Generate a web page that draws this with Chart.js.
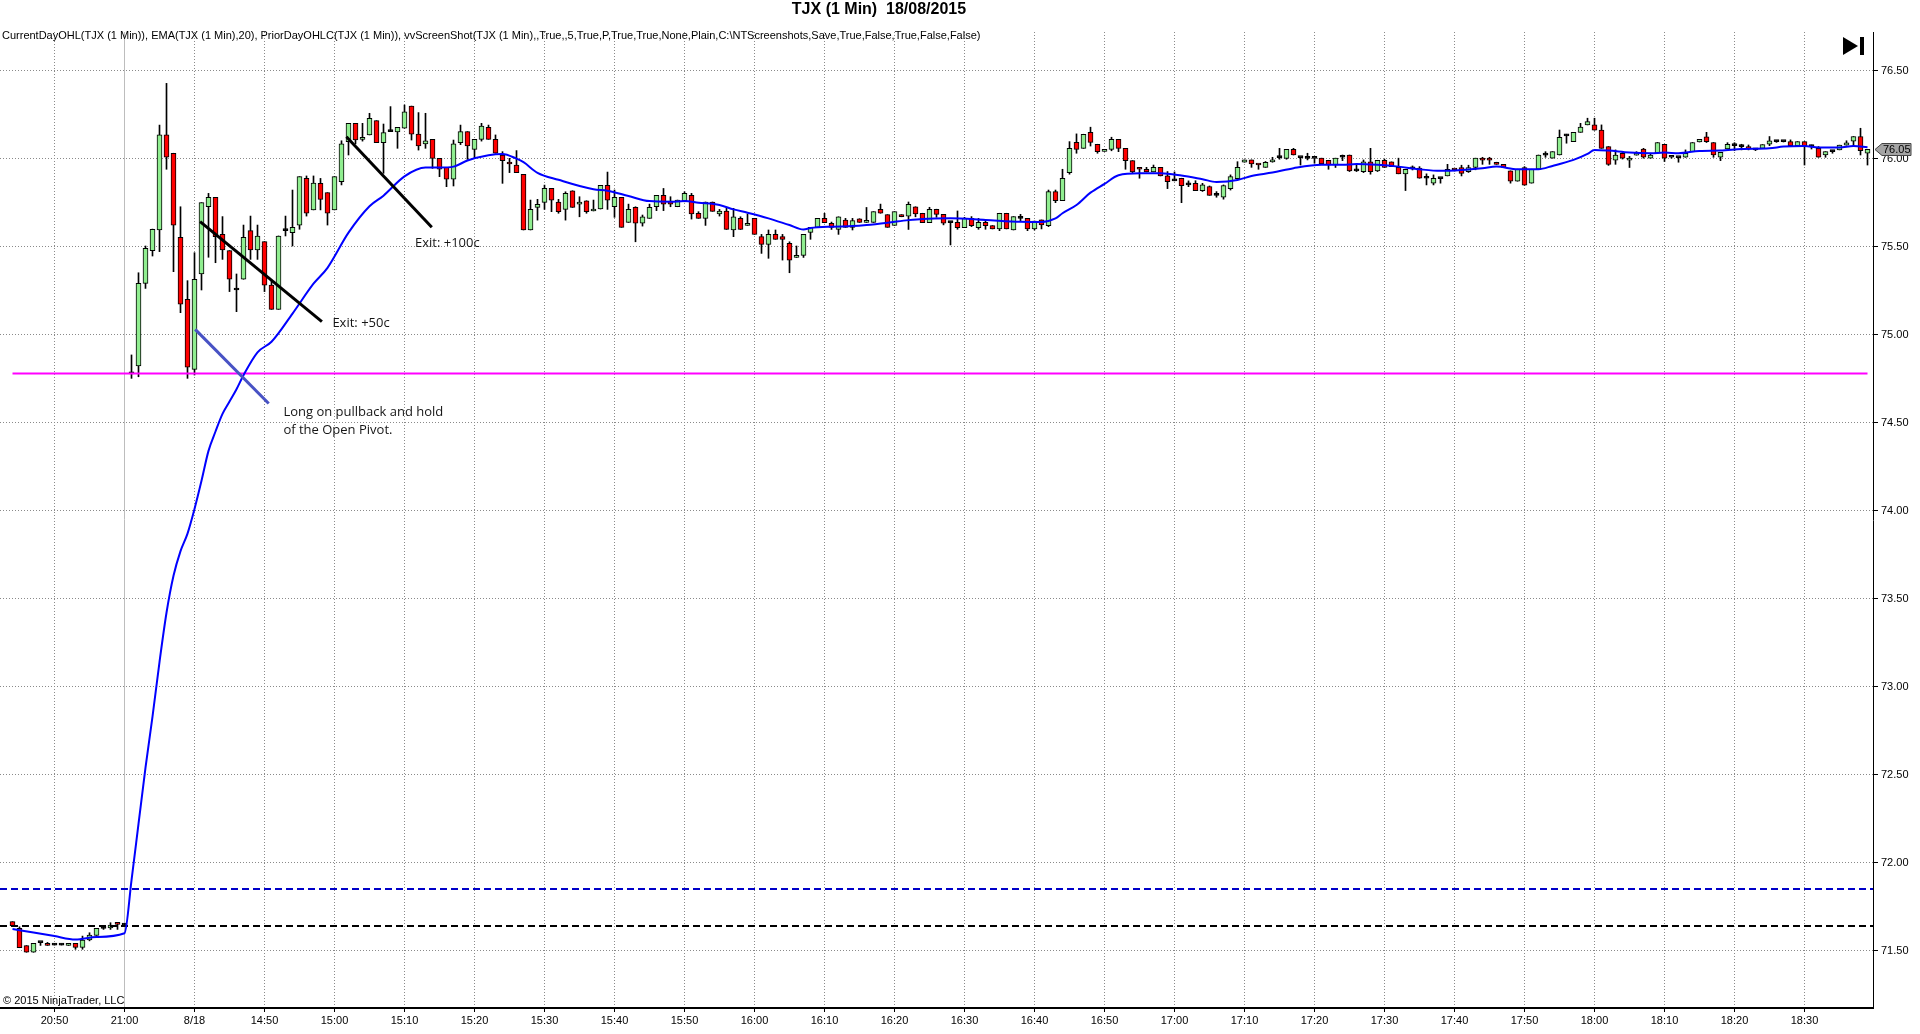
<!DOCTYPE html>
<html>
<head>
<meta charset="utf-8">
<title>TJX (1 Min) 18/08/2015</title>
<script src="https://cdn.jsdelivr.net/npm/chart.js@4.4.1/dist/chart.umd.min.js"></script>
<style>
  html, body { margin: 0; padding: 0; background: #fff; }
  #wrap { width: 1920px; height: 1034px; }
</style>
</head>
<body>
<div id="wrap"><canvas id="chart" width="1920" height="1034"></canvas></div>
<script>
// Ось времени: подписи и номер бара, под которым они стоят
const tickLabels = ['20:50', '21:00', '8/18', '14:50', '15:00', '15:10', '15:20', '15:30', '15:40', '15:50',
  '16:00', '16:10', '16:20', '16:30', '16:40', '16:50', '17:00', '17:10', '17:20', '17:30',
  '17:40', '17:50', '18:00', '18:10', '18:20', '18:30'];
const tickIdx = [6, 16, 26, 36, 46, 56, 66, 76, 86, 96, 106, 116, 126, 136, 146, 156, 166, 176, 186, 196,
  206, 216, 226, 236, 246, 256];
const sessionBreak = 16;

// Ценовая шкала
const priceTicks = [71.5, 72.0, 72.5, 73.0, 73.5, 74.0, 74.5, 75.0, 75.5, 76.0, 76.5];

// Свечи TJX (1 мин): бары 0-16 - 17.08 20:44-21:00, бары 17-265 - 18.08 14:31-18:39
const opens = [
  71.665, 71.627, 71.529, 71.491, 71.546, 71.542, 71.532, 71.532, 71.53, 71.542,
  71.519, 71.561, 71.587, 71.627, 71.629, 71.661, 71.645,
  74.777, 74.822, 75.292, 75.478, 75.595, 76.135, 76.031, 75.553, 75.201, 74.803,
  75.345, 75.728, 75.78, 75.57, 75.478, 75.254, 75.315, 75.591, 75.481, 75.529,
  75.282, 75.144, 75.591, 75.58, 75.623, 75.888, 75.709, 75.86, 75.807, 75.709,
  75.87, 76.097, 76.201, 76.11, 76.135, 76.216, 76.091, 76.154, 76.152, 76.173,
  76.299, 76.14, 76.084, 76.11, 76.002, 75.951, 75.883, 76.091, 76.154, 76.053,
  76.11, 76.178, 76.11, 76.021, 75.981, 75.964, 75.911, 75.595, 75.723, 75.752,
  75.831, 75.754, 75.712, 75.818, 75.742, 75.761, 75.703, 75.714, 75.848, 75.727,
  75.78, 75.638, 75.723, 75.633, 75.661, 75.727, 75.792, 75.759, 75.727, 75.761,
  75.792, 75.69, 75.661, 75.754, 75.686, 75.703, 75.595, 75.661, 75.621, 75.661,
  75.557, 75.513, 75.57, 75.557, 75.519, 75.439, 75.451, 75.581, 75.61, 75.661,
  75.633, 75.598, 75.651, 75.61, 75.659, 75.638, 75.638, 75.712, 75.682, 75.621,
  75.682, 75.674, 75.727, 75.69, 75.637, 75.713, 75.684, 75.637, 75.639, 75.608,
  75.661, 75.608, 75.639, 75.62, 75.601, 75.69, 75.595, 75.661, 75.661, 75.601,
  75.652, 75.62, 75.813, 75.762, 75.921, 76.093, 76.059, 76.15, 76.082, 76.042,
  76.053, 76.11, 76.059, 75.989, 75.951, 75.94, 75.925, 75.951, 75.902, 75.874,
  75.889, 75.851, 75.86, 75.819, 75.841, 75.792, 75.781, 75.83, 75.887, 75.98,
  75.993, 75.969, 75.951, 75.982, 76.006, 76.002, 76.053, 76.006, 76.002, 76.002,
  76.003, 75.991, 75.965, 76.008, 76.021, 75.931, 75.927, 75.982, 75.931, 75.991,
  75.982, 75.951, 75.914, 75.942, 75.946, 75.889, 75.861, 75.887, 75.902, 75.94,
  75.95, 75.927, 75.95, 76.003, 76.003, 75.98, 75.968, 75.931, 75.872, 75.95,
  75.861, 75.94, 76.02, 76.003, 76.021, 76.13, 76.097, 76.15, 76.192, 76.192,
  76.162, 76.069, 75.991, 76.031, 75.991, 76.02, 76.054, 76.003, 76.031, 76.082,
  76.008, 76.006, 76.008, 76.04, 76.095, 76.124, 76.092, 76.008, 76.055, 76.074,
  76.069, 76.069, 76.05, 76.059, 76.082, 76.097, 76.097, 76.097, 76.074, 76.097,
  76.069, 76.059, 76.021, 76.04, 76.05, 76.077, 76.099, 76.126, 76.031
];
const highs = [
  71.665, 71.636, 71.529, 71.542, 71.546, 71.547, 71.542, 71.540, 71.542, 71.542,
  71.583, 71.602, 71.627, 71.633, 71.659, 71.661, 71.655,
  74.885, 75.352, 75.504, 75.60, 76.191, 76.428, 76.031, 75.727, 75.307, 75.466,
  75.75, 75.803, 75.78, 75.671, 75.478, 75.345, 75.623, 75.674, 75.623, 75.529,
  75.307, 75.561, 75.674, 75.822, 75.898, 75.902, 75.902, 75.888, 75.807, 75.898,
  76.102, 76.201, 76.201, 76.201, 76.258, 76.216, 76.197, 76.296, 76.178, 76.305,
  76.299, 76.262, 76.258, 76.11, 76.002, 75.951, 76.106, 76.191, 76.154, 76.11,
  76.201, 76.191, 76.135, 76.04, 76.002, 76.046, 75.911, 75.765, 75.769, 75.85,
  75.831, 75.769, 75.812, 75.818, 75.784, 75.761, 75.765, 75.848, 75.924, 75.822,
  75.78, 75.742, 75.727, 75.68, 75.742, 75.792, 75.831, 75.784, 75.765, 75.812,
  75.803, 75.699, 75.754, 75.754, 75.712, 75.718, 75.718, 75.67, 75.686, 75.661,
  75.57, 75.595, 75.595, 75.57, 75.528, 75.504, 75.57, 75.61, 75.661, 75.69,
  75.64, 75.67, 75.661, 75.661, 75.659, 75.723, 75.699, 75.742, 75.682, 75.699,
  75.682, 75.754, 75.727, 75.69, 75.724, 75.713, 75.684, 75.642, 75.703, 75.667,
  75.671, 75.661, 75.652, 75.62, 75.69, 75.69, 75.671, 75.684, 75.661, 75.646,
  75.652, 75.822, 75.822, 75.94, 76.097, 76.141, 76.139, 76.179, 76.082, 76.053,
  76.122, 76.11, 76.059, 75.989, 75.951, 75.951, 75.964, 75.951, 75.927, 75.925,
  75.889, 75.874, 75.875, 75.86, 75.845, 75.813, 75.851, 75.908, 75.983, 75.993,
  75.993, 75.969, 75.984, 76.008, 76.059, 76.053, 76.059, 76.006, 76.031, 76.002,
  76.003, 75.991, 76.003, 76.021, 76.021, 75.965, 75.993, 76.059, 75.991, 75.997,
  75.982, 76.003, 75.94, 75.959, 75.955, 75.914, 75.908, 75.887, 75.968, 75.94,
  75.963, 75.963, 76.003, 76.008, 76.008, 75.98, 75.968, 75.931, 75.94, 75.955,
  75.94, 76.021, 76.04, 76.04, 76.163, 76.139, 76.15, 76.201, 76.23, 76.23,
  76.192, 76.069, 76.05, 76.04, 76.013, 76.04, 76.059, 76.031, 76.092, 76.082,
  76.008, 76.008, 76.05, 76.092, 76.11, 76.15, 76.092, 76.036, 76.091, 76.091,
  76.082, 76.078, 76.055, 76.08, 76.126, 76.103, 76.1, 76.107, 76.097, 76.097,
  76.078, 76.069, 76.04, 76.046, 76.077, 76.102, 76.126, 76.173, 76.053
];
const lows = [
  71.642, 71.517, 71.491, 71.491, 71.53, 71.53, 71.532, 71.532, 71.53, 71.508,
  71.508, 71.556, 71.587, 71.621, 71.621, 71.621, 71.64,
  74.752, 74.761, 75.263, 75.447, 75.472, 75.94, 75.358, 75.125, 74.752, 74.771,
  75.254, 75.44, 75.409, 75.428, 75.245, 75.131, 75.315, 75.428, 75.428, 75.245,
  75.144, 75.144, 75.561, 75.504, 75.599, 75.674, 75.709, 75.709, 75.623, 75.709,
  75.851, 76.021, 76.084, 76.10, 76.135, 76.091, 75.917, 76.154, 76.059, 76.173,
  76.106, 76.049, 76.059, 75.945, 75.898, 75.841, 75.845, 76.08, 75.996, 76.002,
  76.10, 76.11, 76.031, 75.86, 75.921, 75.921, 75.595, 75.595, 75.651, 75.712,
  75.699, 75.69, 75.651, 75.723, 75.67, 75.69, 75.703, 75.714, 75.712, 75.667,
  75.61, 75.638, 75.528, 75.617, 75.661, 75.705, 75.705, 75.727, 75.727, 75.755,
  75.657, 75.661, 75.621, 75.701, 75.674, 75.598, 75.557, 75.598, 75.621, 75.57,
  75.462, 75.434, 75.542, 75.424, 75.352, 75.439, 75.439, 75.542, 75.61, 75.636,
  75.598, 75.57, 75.61, 75.595, 75.638, 75.638, 75.638, 75.69, 75.61, 75.621,
  75.67, 75.598, 75.67, 75.637, 75.637, 75.667, 75.624, 75.51, 75.599, 75.608,
  75.614, 75.599, 75.599, 75.601, 75.591, 75.601, 75.595, 75.642, 75.591, 75.595,
  75.601, 75.614, 75.75, 75.762, 75.912, 76.031, 76.059, 76.072, 76.031, 76.042,
  76.045, 76.04, 75.94, 75.917, 75.889, 75.925, 75.925, 75.902, 75.83, 75.874,
  75.75, 75.841, 75.819, 75.814, 75.792, 75.781, 75.77, 75.822, 75.884, 75.98,
  75.951, 75.94, 75.951, 75.98, 75.997, 75.997, 76.021, 75.964, 75.993, 75.974,
  75.97, 75.94, 75.95, 75.989, 75.927, 75.927, 75.921, 75.912, 75.927, 75.95,
  75.955, 75.914, 75.819, 75.936, 75.889, 75.851, 75.851, 75.861, 75.902, 75.93,
  75.902, 75.922, 75.937, 75.968, 75.968, 75.968, 75.95, 75.861, 75.872, 75.849,
  75.861, 75.94, 76.008, 76.003, 76.021, 76.088, 76.097, 76.15, 76.192, 76.162,
  76.059, 75.962, 75.968, 75.998, 75.95, 76.02, 76.003, 76.003, 76.031, 75.984,
  76.003, 75.98, 76.008, 76.04, 76.095, 76.092, 76.008, 75.989, 76.055, 76.046,
  76.05, 76.05, 76.046, 76.059, 76.074, 76.093, 76.095, 76.074, 76.074, 75.964,
  76.055, 76.008, 76.008, 76.031, 76.05, 76.077, 76.074, 76.021, 75.964
];
const closes = [
  71.642, 71.517, 71.491, 71.542, 71.546, 71.53, 71.532, 71.532, 71.542, 71.519,
  71.561, 71.589, 71.627, 71.627, 71.646, 71.65, 71.645,
  74.777, 75.292, 75.491, 75.599, 76.135, 76.008, 75.623, 75.173, 74.815, 75.315,
  75.75, 75.78, 75.557, 75.481, 75.315, 75.254, 75.553, 75.481, 75.561, 75.282,
  75.144, 75.561, 75.591, 75.61, 75.898, 75.69, 75.861, 75.769, 75.69, 75.898,
  76.084, 76.201, 76.106, 76.121, 76.229, 76.091, 76.148, 76.154, 76.178, 76.267,
  76.14, 76.072, 76.102, 76.002, 75.94, 75.883, 76.084, 76.154, 76.072, 76.11,
  76.186, 76.11, 76.031, 75.989, 75.97, 75.921, 75.595, 75.712, 75.741, 75.831,
  75.765, 75.699, 75.803, 75.723, 75.754, 75.699, 75.714, 75.848, 75.765, 75.78,
  75.61, 75.712, 75.633, 75.67, 75.723, 75.792, 75.741, 75.742, 75.765, 75.803,
  75.686, 75.661, 75.754, 75.701, 75.703, 75.598, 75.67, 75.598, 75.633, 75.57,
  75.513, 75.57, 75.542, 75.542, 75.424, 75.451, 75.57, 75.61, 75.661, 75.636,
  75.61, 75.67, 75.61, 75.648, 75.638, 75.648, 75.699, 75.69, 75.61, 75.699,
  75.67, 75.741, 75.686, 75.637, 75.713, 75.684, 75.633, 75.637, 75.608, 75.661,
  75.62, 75.639, 75.62, 75.601, 75.69, 75.601, 75.671, 75.661, 75.601, 75.646,
  75.624, 75.813, 75.762, 75.889, 76.059, 76.053, 76.139, 76.093, 76.04, 76.053,
  76.11, 76.059, 75.989, 75.925, 75.94, 75.925, 75.951, 75.902, 75.87, 75.874,
  75.847, 75.851, 75.819, 75.851, 75.792, 75.792, 75.847, 75.898, 75.951, 75.993,
  75.97, 75.964, 75.98, 75.993, 76.006, 76.053, 76.021, 76.006, 76.002, 76.002,
  75.97, 75.965, 76.003, 76.008, 75.931, 75.931, 75.982, 75.927, 75.991, 75.95,
  75.955, 75.914, 75.94, 75.942, 75.889, 75.889, 75.889, 75.887, 75.94, 75.936,
  75.917, 75.95, 76.003, 75.991, 75.991, 75.968, 75.95, 75.872, 75.94, 75.849,
  75.94, 76.021, 76.02, 76.04, 76.122, 76.13, 76.15, 76.179, 76.211, 76.162,
  76.059, 75.968, 76.02, 76.003, 76.003, 76.031, 76.008, 76.02, 76.092, 76.003,
  76.008, 76.006, 76.031, 76.092, 76.11, 76.097, 76.021, 76.036, 76.082, 76.074,
  76.069, 76.055, 76.05, 76.08, 76.101, 76.097, 76.097, 76.074, 76.097, 76.074,
  76.069, 76.008, 76.04, 76.04, 76.077, 76.09, 76.126, 76.046, 76.053
];

const emaIdx = [0, 3, 6, 9, 12, 16, 17, 18, 19, 20, 21, 22, 23, 24, 25, 26, 27, 28, 29, 30,
  31, 32, 33, 35, 37, 40, 43, 45, 48, 51, 53, 56, 59, 61, 63, 65, 68, 70, 72, 73,
  75, 78, 83, 85, 88, 91, 94, 96, 98, 101, 103, 105, 108, 111, 113, 114, 117, 120, 122, 125,
  128, 130, 134, 139, 144, 147, 149, 150, 152, 154, 156, 158, 161, 164, 167, 170, 172, 175, 177, 180,
  183, 187, 190, 192, 195, 198, 201, 204, 207, 210, 212, 215, 218, 220, 223, 225, 226, 228, 231, 234,
  236, 238, 241, 244, 247, 251, 253, 256, 258, 261, 263, 265];
const emaVal = [71.623, 71.604, 71.583, 71.564, 71.578, 71.599, 71.90, 72.22, 72.54, 72.83,
  73.14, 73.42, 73.63, 73.77, 73.87, 74.01, 74.17, 74.34, 74.45, 74.55,
  74.62, 74.69, 74.77, 74.90, 74.96, 75.12, 75.29, 75.38, 75.58, 75.73,
  75.79, 75.90, 75.95, 75.95, 75.955, 75.99, 76.02, 76.027, 76.00, 75.98,
  75.92, 75.88, 75.826, 75.818, 75.788, 75.759, 75.756, 75.759, 75.75, 75.737,
  75.712, 75.693, 75.661, 75.623, 75.598, 75.606, 75.614, 75.617, 75.623, 75.636,
  75.651, 75.658, 75.661, 75.652, 75.642, 75.641, 75.661, 75.69, 75.737, 75.807,
  75.857, 75.906, 75.917, 75.917, 75.904, 75.883, 75.868, 75.879, 75.902, 75.921,
  75.946, 75.965, 75.965, 75.97, 75.965, 75.955, 75.94, 75.931, 75.936, 75.946,
  75.955, 75.94, 75.94, 75.959, 75.993, 76.027, 76.05, 76.046, 76.035, 76.031,
  76.035, 76.031, 76.044, 76.046, 76.055, 76.059, 76.069, 76.072, 76.063, 76.063,
  76.072, 76.065];

// Уровни: открытие дня (CurrentDayOHL), максимум и закрытие прошлого дня (PriorDayOHLC)
const dayOpen = 74.78;
const priorHigh = 71.85;
const priorClose = 71.64;

// Нарисованные от руки линии и подписи (номер бара, цена)
const trendA = [[26.8, 75.642], [44.2, 75.074]];
const trendB = [[47.7, 76.125], [59.9, 75.61]];
const trendLong = [[26.1, 75.03], [36.6, 74.609]];
const noteText = ['Exit: +50c', 'Exit: +100c', 'Long on pullback and hold', 'of the Open Pivot.'];
const noteX = [45.7, 57.5, 38.7, 38.7];
const noteY = [75.065, 75.519, 74.557, 74.455];

// Границы шкал: 7 px на бар, 176 px на доллар
const xMin = -12.5 / 7;
const xMax = xMin + 1873 / 7;
const yMax = 76.5 + 38.7 / 176;
const yMin = yMax - 976 / 176;

const UP = '#90ee90';
const DOWN = '#ff0000';

function candleColor(i) {
  if (closes[i] > opens[i]) return UP;
  if (closes[i] < opens[i]) return DOWN;
  return '#000000';
}

const bodies = opens.map((o, i) => ({ x: i, y: [o, closes[i]] }));
const wicks = lows.map((l, i) => ({ x: i, y: [l, highs[i]] }));
const ema = emaIdx.map((v, i) => ({ x: v, y: emaVal[i] }));
const segment = pts => pts.map(p => ({ x: p[0], y: p[1] }));
const level = v => [{ x: xMin, y: v }, { x: xMax, y: v }];

// Подписи, заголовок и маркер последней цены
const overlay = {
  id: 'overlay',
  afterDatasetsDraw(chart) {
    const { ctx, scales: { x, y } } = chart;
    ctx.save();
    ctx.font = '13px "Open Sans"';
    ctx.fillStyle = '#151515';
    ctx.textAlign = 'left';
    ctx.textBaseline = 'middle';
    noteText.forEach((t, i) => {
      ctx.fillText(t, x.getPixelForValue(noteX[i]), y.getPixelForValue(noteY[i]));
    });
    ctx.restore();
  },
  afterDraw(chart) {
    const { ctx, chartArea, scales: { y } } = chart;
    ctx.save();
    ctx.fillStyle = '#000';
    ctx.textBaseline = 'middle';

    ctx.font = 'bold 16px "Liberation Sans Narrow", "Liberation Sans", Arial';
    ctx.textAlign = 'center';
    ctx.fillText('TJX (1 Min)  18/08/2015', 879, 10);

    ctx.font = '11px "Liberation Sans", Arial';
    ctx.textAlign = 'left';
    ctx.fillText('CurrentDayOHL(TJX (1 Min)), EMA(TJX (1 Min),20), PriorDayOHLC(TJX (1 Min)), vvScreenShot(TJX (1 Min),,True,,5,True,P,True,True,None,Plain,C:\\NTScreenshots,Save,True,False,True,False,False)', 2, 36);
    ctx.fillText('\u00a9 2015 NinjaTrader, LLC', 3, chartArea.bottom - 7);

    // значок "в конец"
    const r = chartArea.right;
    ctx.beginPath();
    ctx.moveTo(r - 30, 37);
    ctx.lineTo(r - 30, 55);
    ctx.lineTo(r - 15, 46);
    ctx.closePath();
    ctx.fill();
    ctx.fillRect(r - 13, 37, 4, 18);

    // маркер последней цены
    const last = closes[closes.length - 1];
    const py = Math.round(y.getPixelForValue(last)) + 0.5;
    ctx.beginPath();
    ctx.moveTo(r + 2, py);
    ctx.lineTo(r + 9, py - 6);
    ctx.lineTo(r + 38, py - 6);
    ctx.lineTo(r + 38, py + 6);
    ctx.lineTo(r + 9, py + 6);
    ctx.closePath();
    ctx.fillStyle = '#a4a4a4';
    ctx.fill();
    ctx.strokeStyle = '#444';
    ctx.lineWidth = 1;
    ctx.stroke();
    ctx.fillStyle = '#000';
    ctx.font = '11px "Liberation Sans", Arial';
    ctx.fillText(last.toFixed(2), r + 10, py + 0.5);
    ctx.restore();
  }
};

const ctx = document.getElementById('chart').getContext('2d');
const chart = new Chart(ctx, {
  type: 'bar',
  data: {
    datasets: [
      {
        type: 'line', label: 'Exit A', data: segment(trendA), order: 1,
        borderColor: '#000', borderWidth: 3, pointRadius: 0
      },
      {
        type: 'line', label: 'Exit B', data: segment(trendB), order: 1,
        borderColor: '#000', borderWidth: 3, pointRadius: 0
      },
      {
        type: 'line', label: 'Long', data: segment(trendLong), order: 1,
        borderColor: '#4852c4', borderWidth: 3, pointRadius: 0
      },
      {
        type: 'line', label: 'EMA', data: ema, order: 2,
        borderColor: '#0000ff', borderWidth: 2, pointRadius: 0,
        cubicInterpolationMode: 'monotone'
      },
      {
        type: 'line', label: 'Open', data: [{ x: 0, y: dayOpen }, { x: opens.length - 1, y: dayOpen }], order: 3,
        borderColor: '#ff00ff', borderWidth: 2, pointRadius: 0
      },
      {
        type: 'line', label: 'Prior High', data: level(priorHigh), order: 3,
        borderColor: '#0000c8', borderWidth: 2, borderDash: [7, 4], pointRadius: 0
      },
      {
        type: 'line', label: 'Prior Close', data: level(priorClose), order: 3,
        borderColor: '#000', borderWidth: 2, borderDash: [7, 4], pointRadius: 0
      },
      {
        label: 'Body', data: bodies, order: 4, grouped: false,
        backgroundColor: opens.map((o, i) => candleColor(i)),
        borderColor: '#000', borderWidth: 1, borderSkipped: false,
        barThickness: 5, minBarLength: 2
      },
      {
        label: 'Wick', data: wicks, order: 5, grouped: false,
        backgroundColor: '#000', borderWidth: 0,
        barThickness: 1, minBarLength: 1
      }
    ]
  },
  options: {
    responsive: false,
    animation: false,
    devicePixelRatio: 1,
    layout: { padding: { top: 32, left: 0, right: 0, bottom: 0 } },
    plugins: {
      legend: { display: false },
      tooltip: { enabled: false },
      title: { display: false }
    },
    scales: {
      x: {
        type: 'linear',
        min: xMin,
        max: xMax,
        offset: false,
        afterBuildTicks: scale => { scale.ticks = tickIdx.map(v => ({ value: v })); },
        afterFit: scale => { scale.height = 26; },
        ticks: {
          autoSkip: false,
          maxRotation: 0,
          padding: 2,
          color: '#000',
          font: { family: 'Liberation Sans', size: 11 },
          callback: (v, i) => tickLabels[i]
        },
        grid: {
          offset: false,
          color: c => (c.tick && c.tick.value === sessionBreak) ? '#bdbdbd' : '#8a8a8a',
          lineWidth: 1,
          tickLength: 4,
          tickColor: '#000'
        },
        border: {
          color: '#000',
          width: 2,
          dash: c => (c.tick && c.tick.value !== sessionBreak) ? [1, 2] : []
        }
      },
      y: {
        type: 'linear',
        position: 'right',
        min: yMin,
        max: yMax,
        afterBuildTicks: scale => { scale.ticks = priceTicks.map(v => ({ value: v })); },
        afterFit: scale => { scale.width = 47; },
        ticks: {
          padding: 3,
          color: '#000',
          font: { family: 'Liberation Sans', size: 11 },
          callback: v => v.toFixed(2)
        },
        grid: {
          color: '#8a8a8a',
          lineWidth: 1,
          tickLength: 5,
          tickColor: '#000'
        },
        border: {
          color: '#000',
          width: 1,
          dash: c => c.tick ? [1, 2] : []
        }
      }
    }
  },
  plugins: [overlay]
});
</script>
</body>
</html>
